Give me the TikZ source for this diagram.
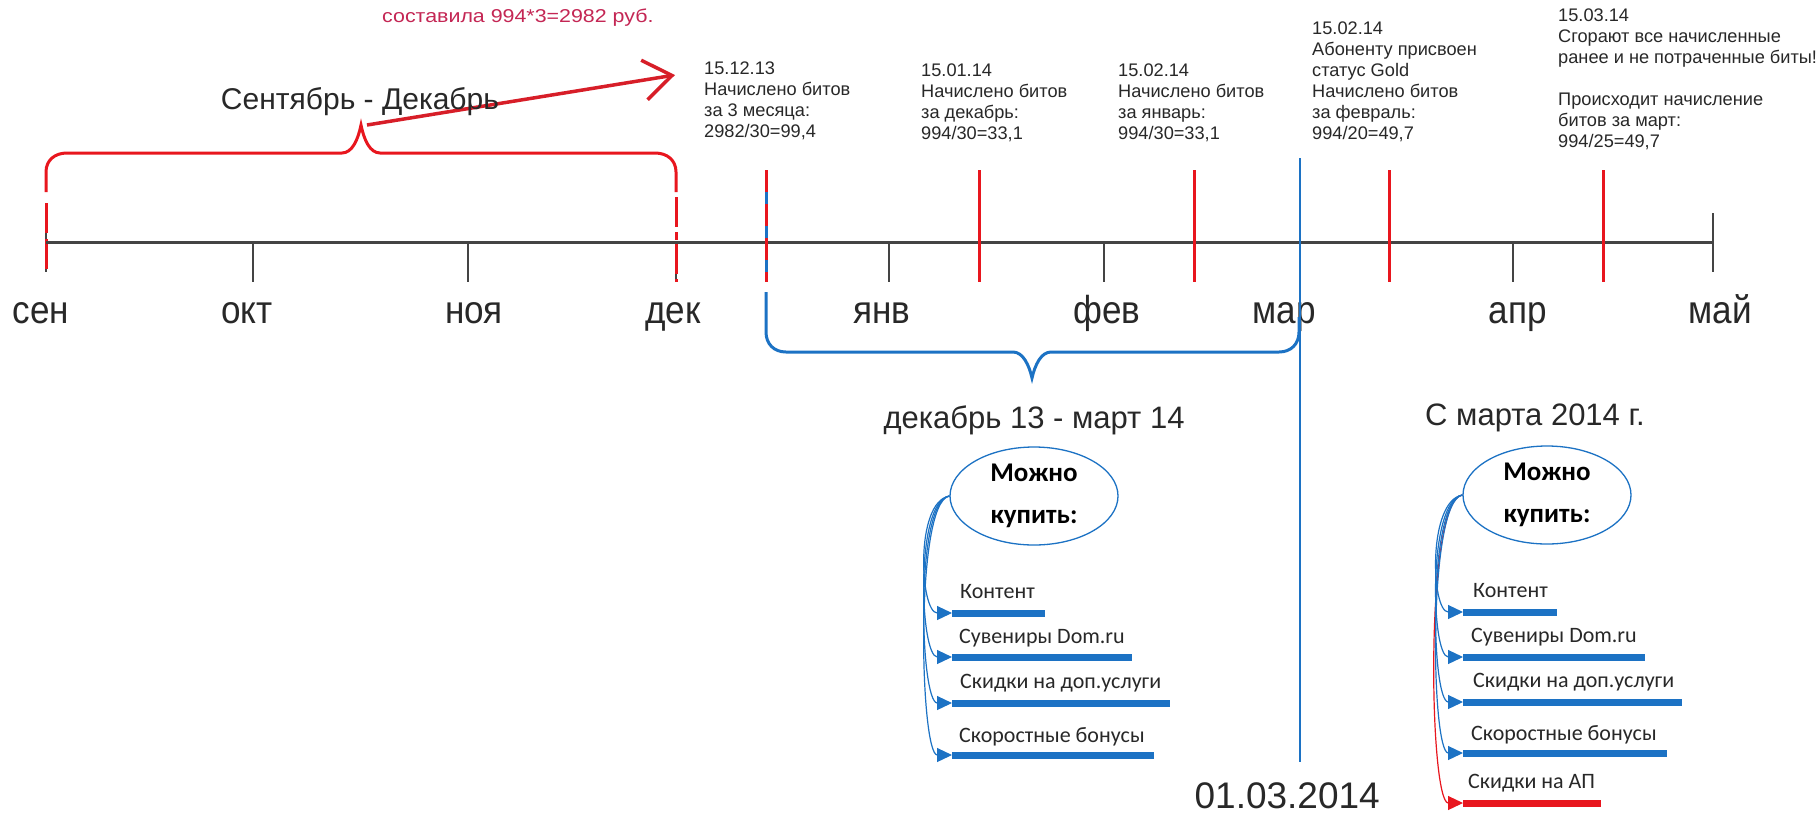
\documentclass[tikz,border=0pt]{standalone}
\usepackage{fontspec}
\setmainfont{Liberation Sans}
\newfontfamily\narrowfont[FakeStretch=0.9]{Liberation Sans}
\newfontfamily\widefont[FakeStretch=1.15]{Liberation Sans}
\newfontfamily\calfont{Carlito}
\usetikzlibrary{arrows.meta,shapes.geometric}
\definecolor{axisgray}{RGB}{68,68,68}
\definecolor{txt}{RGB}{40,40,40}
\definecolor{tred}{RGB}{232,22,30}
\definecolor{ared}{RGB}{215,30,40}
\definecolor{pinkred}{RGB}{196,38,84}
\definecolor{tblue}{RGB}{28,114,196}
\tikzset{
  axisline/.style={draw=axisgray, line width=3pt},
  montick/.style={draw=axisgray, line width=2.5pt},
  redtick/.style={draw=tred, line width=3pt},
  reddash/.style={draw=tred, line width=3pt, dash pattern=on 30pt off 6pt},
  redbrace/.style={draw=tred, line width=3pt},
  bluebrace/.style={draw=tblue, line width=3pt},
  redarrow/.style={draw=ared, line width=3.5pt, -{Straight Barb[length=28pt,width=40pt,line width=3.5pt]}},
  month/.style={anchor=base, inner sep=0pt, text=txt, font=\narrowfont\fontsize{39}{40}\selectfont},
  info/.style={anchor=north west, inner sep=0pt, align=left, text=txt, font=\fontsize{18.2}{21}\selectfont},
  big/.style={inner sep=0pt, text=txt, font=\fontsize{30}{34}\selectfont},
  ell/.style={ellipse, draw=tblue, line width=1.3pt, fill=white, minimum width=168pt, minimum height=98pt, inner sep=0pt, align=center, text=black, font=\calfont\bfseries\fontsize{27}{42}\selectfont},
  bar/.style={fill=tblue, draw=none, minimum height=7pt, inner sep=0pt, anchor=west},
  redbar/.style={fill=tred, draw=none, minimum height=7pt, inner sep=0pt, anchor=west},
  item/.style={anchor=base west, inner sep=0pt, text=txt, font=\calfont\fontsize{22}{26}\selectfont},
  conn/.style={draw=tblue, line width=1.2pt, -{Triangle[length=15pt,width=14pt]}},
  redconn/.style={draw=tred, line width=1.2pt, -{Triangle[length=15pt,width=14pt]}}
}
\begin{document}
\begin{tikzpicture}[x=1pt,y=-1pt]
\fill[white] (0,0) rectangle (1820,815);
\useasboundingbox (0,0) rectangle (1820,815);

% red top text
\node[anchor=base west, inner sep=0pt, text=pinkred, font=\widefont\fontsize{18.6}{21}\selectfont] (rtxt) at (382,22) {составила 994*3=2982 руб.};

% info texts
\node[info] (i1) at (704,62) {15.12.13\\Начислено битов\\за 3 месяца:\\2982/30=99,4};
\node[info] (i2) at (921,64) {15.01.14\\Начислено битов\\за декабрь:\\994/30=33,1};
\node[info] (i3) at (1118,64) {15.02.14\\Начислено битов\\за январь:\\994/30=33,1};
\node[info] (i4) at (1312,22) {15.02.14\\Абоненту присвоен\\статус Gold\\Начислено битов\\за февраль:\\994/20=49,7};
\node[info] (i5) at (1558,9) {15.03.14\\Сгорают все начисленные\\ранее и не потраченные биты!\\[21pt]Происходит начисление\\битов за март:\\994/25=49,7};

% month ticks
\foreach \x in {253,468,676,889,1104,1513}{\draw[montick] (\x,242) -- (\x,282);}
\draw[montick] (46,212) -- (46,272);
\draw[montick] (1713,213) -- (1713,272);

% dashed red ticks
\draw[reddash] (46,203) -- (46,272);
\draw[reddash, dash pattern=on 30pt off 5pt on 8pt off 4pt] (676,197) -- (676,282);

% axis
\draw[axisline] (46,242) -- (1713,242);

% 15th ticks
\draw[draw=tblue, line width=3pt] (766,170) -- (766,282);
\draw[draw=tred, line width=3pt, dash pattern=on 22pt off 12pt] (766,170) -- (766,282);
\foreach \x in {979,1194,1389,1603}{\draw[redtick] (\x,170) -- (\x,282);}

% red brace
\coordinate (rtip) at (361,125);
\draw[redbrace] (46,192) -- (46,172) .. controls (46,160) and (55,153) .. (67,153) -- (342,153) .. controls (352,153) and (358,140) .. (rtip) .. controls (364,140) and (370,153) .. (380,153) -- (655,153) .. controls (667,153) and (676,160) .. (676,172) -- (676,192);
\coordinate (atip) at (675,75);
\draw[redarrow] ([xshift=6pt]rtip) -- (atip);

% month labels
\node[month] (m1) at (41,323) {сен};
\node[month] (m2) at (247,323) {окт};
\node[month] (m3) at (474,323) {ноя};
\node[month] (m4) at (673,323) {дек};
\node[month] (m5) at (882,323) {янв};
\node[month] (m6) at (1107,323) {фев};
\node[month] (m7) at (1284,323) {мар};
\node[month] (m8) at (1518,323) {апр};
\node[month] (m9) at (1720,323) {май};

\node[big, anchor=base] (lsd) at (360,109) {Сентябрь - Декабрь};

% blue brace and line
\draw[bluebrace] (766,292) -- (766,332) .. controls (766,344) and (774,352) .. (786,352) -- (1013,352) .. controls (1023,352) and (1029,365) .. (1032,378) .. controls (1035,365) and (1041,352) .. (1051,352) -- (1279,352) .. controls (1291,352) and (1299,344) .. (1299,332) -- (1299,317);
\draw[draw=tblue, line width=2.5pt] (1300,158) -- (1300,762);

\node[big, anchor=base, font=\fontsize{31}{34}\selectfont] (ldm) at (1034,428) {декабрь 13 - март 14};
\node[big, anchor=base west, font=\fontsize{31}{34}\selectfont] (lsm) at (1425,425) {С марта 2014 г.};
\node[big, anchor=base east, font=\fontsize{37}{40}\selectfont] (ldate) at (1380,808) {01.03.2014};

% left group
\node[ell] (e1) at (1034,496) {Можно\\купить:};
\node[bar, minimum width=93pt] (l1) at (952,613) {};
\node[bar, minimum width=180pt] (l2) at (952,657) {};
\node[bar, minimum width=218pt] (l3) at (952,703) {};
\node[bar, minimum width=202pt] (l4) at (952,755) {};
\node[item] (t1) at (960,598) {Контент};
\node[item] (t2) at (959,643) {Сувениры Dom.ru};
\node[item] (t3) at (960,688) {Скидки на доп.услуги};
\node[item] (t4) at (959,742) {Скоростные бонусы};
\foreach \b in {l1,l2,l3,l4}{\draw[conn] (e1.west) .. controls +(-35,6) and +(-32,0) .. (\b.west);}

% right group
\node[ell] (e2) at (1547,495) {Можно\\купить:};
\node[bar, minimum width=94pt] (r1) at (1463,612) {};
\node[bar, minimum width=182pt] (r2) at (1463,657) {};
\node[bar, minimum width=219pt] (r3) at (1463,702) {};
\node[bar, minimum width=204pt] (r4) at (1463,753) {};
\node[redbar, minimum width=138pt] (r5) at (1463,803) {};
\node[item] (u1) at (1473,597) {Контент};
\node[item] (u2) at (1471,642) {Сувениры Dom.ru};
\node[item] (u3) at (1473,687) {Скидки на доп.услуги};
\node[item] (u4) at (1471,740) {Скоростные бонусы};
\node[item] (u5) at (1468,788) {Скидки на АП};
\draw[redconn] (e2.west) .. controls +(-38,4) and +(-34,0) .. (r5.west);
\foreach \b in {r1,r2,r3,r4}{\draw[conn] (e2.west) .. controls +(-35,6) and +(-32,0) .. (\b.west);}
\end{tikzpicture}
\end{document}
